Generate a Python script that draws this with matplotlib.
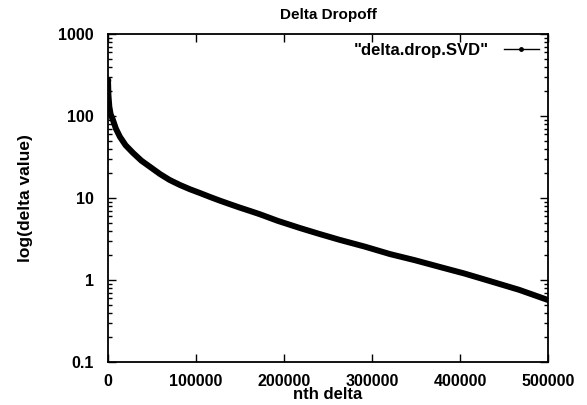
import matplotlib
matplotlib.use("Agg")
import matplotlib.pyplot as plt
from matplotlib.ticker import FixedLocator, LogLocator, NullFormatter, FixedFormatter

plt.rcParams['font.family'] = ['Liberation Sans', 'DejaVu Sans']

title = "Delta Dropoff"
xlabel = "nth delta"
ylabel = "log(delta value)"
series_name = '"delta.drop.SVD"'

nth = [0, 500, 1500, 3000, 5700, 9000, 13600, 20000, 28400, 38000, 47700, 59100,
       70000, 81800, 93000, 104500, 115900, 127300, 138600, 150000, 161400, 172700,
       193200, 218200, 240000, 263600, 292000, 320500, 349000, 377300, 405000,
       434000, 467000, 500000]
delta = [275, 180, 130, 105, 89, 70, 55.6, 44, 35.5, 28.5, 24, 19.6,
         16.6, 14.4, 12.8, 11.5, 10.3, 9.27, 8.4, 7.62, 6.95, 6.33,
         5.25, 4.3, 3.65, 3.08, 2.55, 2.07, 1.74, 1.44, 1.2,
         0.97, 0.76, 0.57]

xticks = [0, 100000, 200000, 300000, 400000, 500000]
xticklabels = ["0", "100000", "200000", "300000", "400000", "500000"]
yticks = [0.1, 1, 10, 100, 1000]
yticklabels = ["0.1", "1", "10", "100", "1000"]

fig = plt.figure(figsize=(5.87, 4.05), dpi=100)
ax = fig.add_axes([108/587, 43/405, 440/587, 328/405])

ax.plot(nth, delta, color='black', lw=4.3, solid_capstyle='round',
        solid_joinstyle='round', zorder=3)
ax.plot([nth[0]], [delta[0]], 'o', color='black', ms=3, zorder=4)

# legend proxy
ax.plot([], [], color='black', lw=1, marker='o', ms=2.5, label=series_name)

ax.set_yscale('log')
ax.set_xlim(0, 500000)
ax.set_ylim(0.1, 1000)

ax.xaxis.set_major_locator(FixedLocator(xticks))
ax.xaxis.set_major_formatter(FixedFormatter(xticklabels))
ax.yaxis.set_major_locator(FixedLocator(yticks))
ax.yaxis.set_major_formatter(FixedFormatter(yticklabels))
ax.yaxis.set_minor_locator(LogLocator(base=10, subs=range(2, 10)))
ax.yaxis.set_minor_formatter(NullFormatter())

fs = 11.5
ax.tick_params(axis='both', which='both', direction='in', top=True, right=True,
               labelsize=fs, width=1, colors='black')
ax.tick_params(axis='x', which='major', length=6, pad=9)
ax.tick_params(axis='y', which='major', length=6, pad=10)
ax.tick_params(which='minor', length=3)
for lab in ax.get_xticklabels() + ax.get_yticklabels():
    lab.set_fontweight('bold')
for s in ax.spines.values():
    s.set_linewidth(1.3)

ax.set_title(title, fontsize=11, fontweight='bold', pad=11)
ax.set_xlabel(xlabel, fontsize=12, fontweight='bold', labelpad=-2)
ax.set_ylabel(ylabel, fontsize=12.5, fontweight='bold', labelpad=18)

leg = ax.legend(loc='upper right', frameon=False, markerfirst=False,
                handlelength=2.1, borderaxespad=0.15, handletextpad=0.9,
                prop={'weight': 'bold', 'size': 12})

fig.savefig("out.png", dpi=100)
